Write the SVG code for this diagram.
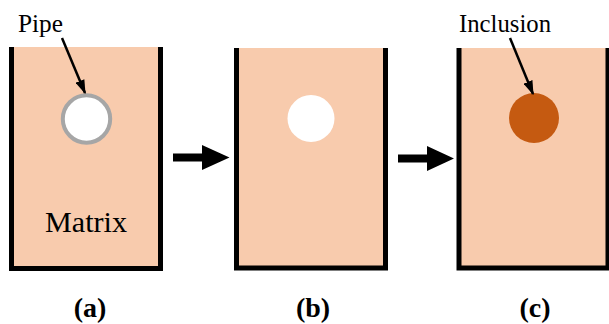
<svg xmlns="http://www.w3.org/2000/svg" width="609" height="324" viewBox="0 0 609 324">
<defs>
<style>
.fill{fill:#F8CBAD;}
.wall{fill:none;stroke:#000;stroke-width:5;stroke-linejoin:miter;}
.lbl{font-size:24.5px;fill:#000;}
.cap{font-size:28px;font-weight:bold;fill:#000;text-anchor:middle;}
.big{fill:#000;}
.ptr{stroke:#000;stroke-width:2.5;fill:none;}
</style>
<marker id="ah" viewBox="0 0 10 10" preserveAspectRatio="none" refX="9" refY="5" markerWidth="5.8" markerHeight="3.8" markerUnits="strokeWidth" orient="auto">
<path d="M0,0 L10,5 L0,10 Z" fill="#000"/>
</marker>
</defs>
<rect width="609" height="324" fill="#fff"/>
<g id="panel-a">
<rect class="fill" x="12" y="47" width="149" height="220"/>
<path class="wall" d="M11.5,47 V268.5 H160.5 V47"/>
<circle cx="86.5" cy="119" r="23.7" fill="#fff" stroke="#A6A6A6" stroke-width="4"/>
<text class="lbl" font-family="'Liberation Serif', serif" x="45" y="232" font-size="29" style="font-size:29px" textLength="82" lengthAdjust="spacingAndGlyphs">Matrix</text>
<text class="lbl" font-family="'Liberation Serif', serif" x="18" y="32" textLength="45" lengthAdjust="spacingAndGlyphs">Pipe</text>
<text class="cap" font-family="'Liberation Serif', serif" x="90" y="317">(a)</text>
</g>
<g id="panel-b">
<rect class="fill" x="237" y="48" width="149" height="219"/>
<path class="wall" d="M236.5,48 V268 H385.5 V48"/>
<circle cx="311" cy="118.5" r="23.5" fill="#fff"/>
<text class="cap" font-family="'Liberation Serif', serif" x="313" y="317">(b)</text>
</g>
<g id="panel-c">
<rect class="fill" x="459" y="48" width="149" height="219"/>
<path class="wall" d="M459,48 V268 H608 V48"/>
<circle cx="534" cy="118" r="25" fill="#C55A11"/>
<text class="lbl" font-family="'Liberation Serif', serif" x="459" y="32" textLength="92" lengthAdjust="spacingAndGlyphs">Inclusion</text>
<text class="cap" font-family="'Liberation Serif', serif" x="535" y="317">(c)</text>
</g>
<g id="connectors">
<path class="big" d="M173,153.5 H202 V145 L229.5,157.5 L202,170 V161.5 H173 Z"/>
<path class="big" d="M398,154.5 H427 V146 L454,158.5 L427,171 V162.5 H398 Z"/>
<line class="ptr" x1="62" y1="38" x2="85" y2="93" marker-end="url(#ah)"/>
<line class="ptr" x1="510" y1="38" x2="533" y2="94" marker-end="url(#ah)"/>
</g>
</svg>
